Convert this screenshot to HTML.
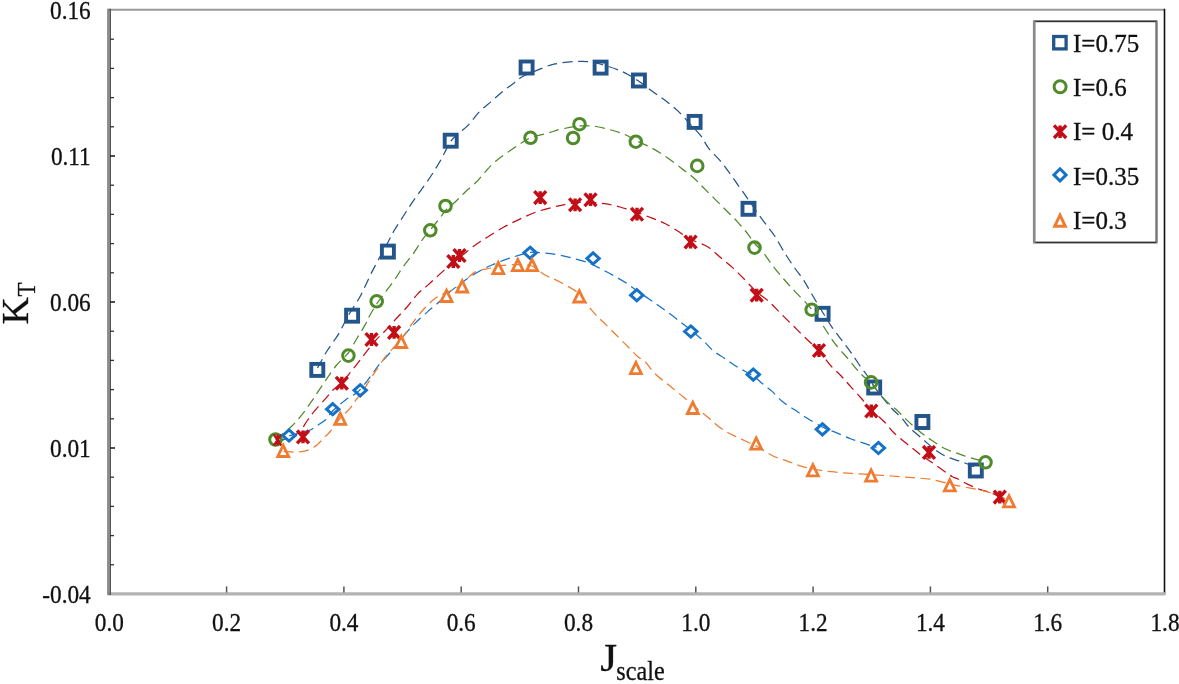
<!DOCTYPE html><html><head><meta charset="utf-8"><style>html,body{margin:0;padding:0;background:#fff;overflow:hidden}svg{display:block;filter:blur(0.6px)}text{font-family:"Liberation Serif",serif;fill:#111;stroke:#111;stroke-width:0.3px}</style></head><body>
<svg width="1179" height="684" viewBox="0 0 1179 684">
<rect width="1179" height="684" fill="#fff"/>
<line x1="108" y1="9.7" x2="1164.5" y2="9.7" stroke="#9a9a9a" stroke-width="2"/>
<line x1="1164.5" y1="8.7" x2="1164.5" y2="595" stroke="#111" stroke-width="1.6"/>
<line x1="107.5" y1="593.9" x2="1165" y2="593.9" stroke="#b3b3b3" stroke-width="3.4"/>
<line x1="108.2" y1="8.7" x2="108.2" y2="595" stroke="#8a8a8a" stroke-width="2.2"/>
<line x1="110.2" y1="8.7" x2="110.2" y2="595" stroke="#555" stroke-width="1.6"/>
<line x1="110" y1="39.2" x2="114" y2="39.2" stroke="#333" stroke-width="1.3"/>
<line x1="110" y1="68.4" x2="114" y2="68.4" stroke="#333" stroke-width="1.3"/>
<line x1="110" y1="97.6" x2="114" y2="97.6" stroke="#333" stroke-width="1.3"/>
<line x1="110" y1="126.8" x2="114" y2="126.8" stroke="#333" stroke-width="1.3"/>
<line x1="110" y1="156.0" x2="115" y2="156.0" stroke="#222" stroke-width="1.6"/>
<line x1="110" y1="185.2" x2="114" y2="185.2" stroke="#333" stroke-width="1.3"/>
<line x1="110" y1="214.4" x2="114" y2="214.4" stroke="#333" stroke-width="1.3"/>
<line x1="110" y1="243.6" x2="114" y2="243.6" stroke="#333" stroke-width="1.3"/>
<line x1="110" y1="272.8" x2="114" y2="272.8" stroke="#333" stroke-width="1.3"/>
<line x1="110" y1="302.0" x2="115" y2="302.0" stroke="#222" stroke-width="1.6"/>
<line x1="110" y1="331.2" x2="114" y2="331.2" stroke="#333" stroke-width="1.3"/>
<line x1="110" y1="360.4" x2="114" y2="360.4" stroke="#333" stroke-width="1.3"/>
<line x1="110" y1="389.6" x2="114" y2="389.6" stroke="#333" stroke-width="1.3"/>
<line x1="110" y1="418.8" x2="114" y2="418.8" stroke="#333" stroke-width="1.3"/>
<line x1="110" y1="448.0" x2="115" y2="448.0" stroke="#222" stroke-width="1.6"/>
<line x1="110" y1="477.2" x2="114" y2="477.2" stroke="#333" stroke-width="1.3"/>
<line x1="110" y1="506.4" x2="114" y2="506.4" stroke="#333" stroke-width="1.3"/>
<line x1="110" y1="535.6" x2="114" y2="535.6" stroke="#333" stroke-width="1.3"/>
<line x1="110" y1="564.8" x2="114" y2="564.8" stroke="#333" stroke-width="1.3"/>
<line x1="226.6" y1="586.4" x2="226.6" y2="592.5" stroke="#555" stroke-width="1.5"/>
<line x1="343.9" y1="586.4" x2="343.9" y2="592.5" stroke="#555" stroke-width="1.5"/>
<line x1="461.2" y1="586.4" x2="461.2" y2="592.5" stroke="#555" stroke-width="1.5"/>
<line x1="578.5" y1="586.4" x2="578.5" y2="592.5" stroke="#555" stroke-width="1.5"/>
<line x1="695.8" y1="586.4" x2="695.8" y2="592.5" stroke="#555" stroke-width="1.5"/>
<line x1="813.1" y1="586.4" x2="813.1" y2="592.5" stroke="#555" stroke-width="1.5"/>
<line x1="930.4" y1="586.4" x2="930.4" y2="592.5" stroke="#555" stroke-width="1.5"/>
<line x1="1047.7" y1="586.4" x2="1047.7" y2="592.5" stroke="#555" stroke-width="1.5"/>
<text transform="translate(90.7 18.6) scale(0.93 1)" font-size="25" text-anchor="end">0.16</text>
<text transform="translate(90.7 164.6) scale(0.93 1)" font-size="25" text-anchor="end">0.11</text>
<text transform="translate(90.7 310.6) scale(0.93 1)" font-size="25" text-anchor="end">0.06</text>
<text transform="translate(90.7 456.6) scale(0.93 1)" font-size="25" text-anchor="end">0.01</text>
<text transform="translate(90.7 602.6) scale(0.93 1)" font-size="25" text-anchor="end">-0.04</text>
<text transform="translate(109.3 631) scale(0.93 1)" font-size="25" text-anchor="middle">0.0</text>
<text transform="translate(226.6 631) scale(0.93 1)" font-size="25" text-anchor="middle">0.2</text>
<text transform="translate(343.9 631) scale(0.93 1)" font-size="25" text-anchor="middle">0.4</text>
<text transform="translate(461.2 631) scale(0.93 1)" font-size="25" text-anchor="middle">0.6</text>
<text transform="translate(578.5 631) scale(0.93 1)" font-size="25" text-anchor="middle">0.8</text>
<text transform="translate(695.8 631) scale(0.93 1)" font-size="25" text-anchor="middle">1.0</text>
<text transform="translate(813.1 631) scale(0.93 1)" font-size="25" text-anchor="middle">1.2</text>
<text transform="translate(930.4 631) scale(0.93 1)" font-size="25" text-anchor="middle">1.4</text>
<text transform="translate(1047.7 631) scale(0.93 1)" font-size="25" text-anchor="middle">1.6</text>
<text transform="translate(1165.0 631) scale(0.93 1)" font-size="25" text-anchor="middle">1.8</text>
<text transform="translate(600.2 671.3) scale(1.08 1)" font-size="40">J</text>
<text transform="translate(616.3 679.6) scale(0.865 1)" font-size="28">scale</text>
<g transform="translate(27.6 324.6) rotate(-90)"><text x="0" y="0" font-size="38">K</text><text transform="translate(28.2 7.6) scale(0.9 1)" font-size="25.5">T</text></g>
<path d="M317.5,368.0 C319.1,365.2 323.4,356.7 327.0,351.0 C330.6,345.3 335.3,339.4 338.8,333.6 C342.3,327.8 344.6,321.9 348.0,316.0 C351.4,310.1 356.1,303.6 359.0,298.5 C361.9,293.4 363.5,289.6 365.6,285.3 C367.7,281.0 369.3,277.0 371.4,272.9 C373.5,268.8 375.3,265.5 378.0,260.5 C380.7,255.5 384.9,248.0 387.6,243.0 C390.3,238.0 391.8,234.6 394.3,230.3 C396.8,226.0 400.0,221.4 402.8,217.0 C405.6,212.6 408.4,208.1 411.4,203.7 C414.4,199.2 417.6,195.0 420.9,190.3 C424.2,185.6 428.0,180.6 431.3,175.5 C434.6,170.4 437.6,165.6 440.8,160.0 C444.0,154.4 447.3,146.5 450.3,142.0 C453.3,137.5 455.9,135.9 459.0,133.0 C462.1,130.1 465.5,128.1 468.8,124.6 C472.1,121.1 475.4,115.9 479.0,112.1 C482.6,108.3 486.8,105.3 490.7,101.9 C494.6,98.5 498.5,94.9 502.4,91.7 C506.3,88.5 510.7,85.5 514.1,82.9 C517.5,80.3 518.4,78.7 523.0,76.3 C527.6,73.9 536.6,70.4 541.9,68.3 C547.2,66.2 549.8,65.0 555.0,63.9 C560.2,62.8 567.6,62.0 573.2,61.6 C578.8,61.2 584.3,61.2 588.8,61.6 C593.3,62.0 595.2,62.7 600.0,64.0 C604.8,65.3 612.8,67.9 617.4,69.6 C622.0,71.3 623.6,72.1 627.4,74.2 C631.2,76.3 635.6,79.0 640.0,82.0 C644.4,85.0 649.4,89.1 653.9,92.4 C658.4,95.7 662.6,98.4 666.7,101.6 C670.8,104.8 674.7,107.9 678.6,111.6 C682.5,115.3 686.4,120.0 690.0,124.0 C693.6,128.0 697.4,131.4 700.5,135.4 C703.6,139.4 705.3,143.9 708.5,148.1 C711.7,152.3 716.4,156.3 719.9,160.4 C723.4,164.5 726.4,168.7 729.4,172.8 C732.4,176.9 735.3,181.3 738.0,185.1 C740.7,188.9 743.3,192.3 745.6,195.6 C747.9,198.9 749.9,202.0 752.0,205.0 C754.1,208.0 755.6,210.3 758.0,213.7 C760.4,217.0 763.7,221.3 766.5,225.1 C769.3,228.9 771.8,231.5 775.0,236.5 C778.2,241.5 782.6,249.7 786.0,255.0 C789.4,260.3 792.1,264.2 795.1,268.5 C798.1,272.8 801.1,276.4 803.9,280.6 C806.6,284.8 808.5,288.6 811.6,293.8 C814.7,299.0 819.0,306.3 822.5,312.0 C826.0,317.7 829.1,323.0 832.4,327.8 C835.7,332.6 839.0,336.5 842.3,340.9 C845.6,345.3 849.0,349.7 852.1,354.1 C855.2,358.5 858.3,363.6 860.9,367.2 C863.5,370.8 865.0,372.4 867.5,376.0 C870.0,379.6 872.2,383.8 876.0,389.0 C879.8,394.2 886.2,402.1 890.5,407.0 C894.8,411.9 898.6,414.7 901.8,418.2 C905.0,421.7 906.3,424.4 909.8,427.9 C913.3,431.4 918.7,435.6 922.7,439.1 C926.7,442.6 930.0,445.9 934.0,448.8 C938.0,451.8 942.2,454.7 946.8,456.8 C951.3,458.9 956.6,459.9 961.3,461.6 C966.0,463.3 972.7,466.1 975.0,467.0" fill="none" stroke="#23548A" stroke-width="1.25" stroke-dasharray="10 5.5"/>
<path d="M275.5,439.5 C278.1,437.4 286.8,430.9 291.1,426.8 C295.5,422.7 298.3,419.2 301.6,415.1 C304.9,411.0 307.9,406.7 311.0,402.2 C314.1,397.7 316.3,394.2 320.4,388.2 C324.5,382.2 331.1,371.9 335.8,366.0 C340.5,360.1 344.9,357.4 348.3,353.0 C351.7,348.6 353.5,344.2 356.3,339.5 C359.1,334.8 362.9,328.8 365.1,324.9 C367.3,321.0 367.4,319.8 369.5,316.0 C371.6,312.2 373.8,308.1 378.0,302.0 C382.2,295.9 390.7,285.3 394.8,279.5 C398.9,273.7 399.8,271.3 402.9,267.0 C405.9,262.7 410.0,258.2 413.1,253.9 C416.2,249.6 418.5,245.1 421.4,241.0 C424.3,236.9 427.3,233.5 430.5,229.6 C433.7,225.7 437.8,220.7 440.4,217.4 C443.0,214.1 443.4,212.7 446.0,210.0 C448.6,207.3 453.0,204.0 456.2,201.0 C459.4,198.0 461.6,195.4 465.0,192.2 C468.4,189.0 473.4,185.0 476.7,181.7 C480.0,178.4 481.7,175.8 484.9,172.3 C488.1,168.8 490.4,165.5 496.0,160.9 C501.6,156.3 512.7,148.9 518.5,145.0 C524.3,141.1 525.8,139.7 530.9,137.7 C536.0,135.7 544.1,134.2 549.0,132.8 C553.9,131.4 555.0,130.5 560.0,129.4 C565.0,128.3 573.0,126.5 579.0,126.0 C585.0,125.5 590.7,125.8 596.0,126.5 C601.3,127.2 606.2,128.7 611.0,130.0 C615.8,131.3 620.5,132.8 624.7,134.5 C628.9,136.2 631.4,138.2 636.0,140.5 C640.6,142.8 647.0,145.4 652.1,148.2 C657.2,151.0 661.8,154.0 666.7,157.3 C671.6,160.6 676.9,164.8 681.3,168.2 C685.7,171.6 689.7,174.4 693.3,177.5 C696.9,180.6 699.3,183.5 702.8,187.0 C706.3,190.5 710.4,194.6 714.2,198.4 C718.0,202.2 721.8,206.0 725.6,209.8 C729.4,213.6 733.4,217.3 737.0,221.3 C740.6,225.3 744.5,229.8 747.5,233.6 C750.5,237.4 752.6,241.1 755.1,244.0 C757.6,246.9 759.2,247.3 762.2,251.0 C765.2,254.7 769.6,261.6 773.2,266.3 C776.9,271.1 780.5,275.3 784.1,279.5 C787.8,283.7 790.5,286.7 795.1,291.6 C799.7,296.5 806.9,303.3 811.6,309.1 C816.4,314.9 819.8,320.8 823.6,326.5 C827.4,332.2 830.6,337.8 834.6,343.1 C838.6,348.4 843.8,353.8 847.8,358.5 C851.8,363.2 854.7,367.3 858.7,371.6 C862.7,375.9 867.4,379.7 871.9,384.5 C876.4,389.3 881.5,396.2 885.7,400.5 C889.9,404.8 893.2,406.7 897.0,410.2 C900.8,413.7 904.2,417.6 908.2,421.4 C912.2,425.1 917.1,429.5 921.1,432.7 C925.1,435.9 928.3,438.0 932.3,440.7 C936.3,443.4 940.9,446.6 945.2,448.8 C949.5,451.0 953.6,452.0 958.1,453.6 C962.6,455.2 967.8,457.1 972.5,458.4 C977.2,459.7 983.9,461.1 986.2,461.6" fill="none" stroke="#4F8A2B" stroke-width="1.25" stroke-dasharray="10 5.5"/>
<path d="M277.0,441.0 C279.5,440.3 288.0,438.8 292.0,437.0 C296.0,435.2 298.5,432.7 301.0,430.0 C303.5,427.3 304.8,424.1 307.0,421.0 C309.2,417.9 311.1,415.1 314.0,411.6 C316.9,408.1 321.2,403.5 324.4,399.9 C327.6,396.3 330.0,393.0 333.0,390.0 C336.0,387.0 338.6,386.0 342.4,382.0 C346.2,378.0 351.7,370.7 355.6,365.8 C359.5,360.9 362.4,356.9 365.8,352.6 C369.2,348.3 372.6,343.8 376.0,340.0 C379.4,336.2 382.4,333.8 386.0,330.0 C389.6,326.2 393.7,321.4 397.3,317.5 C400.9,313.6 404.1,310.4 407.5,306.5 C410.9,302.6 414.1,297.7 417.5,294.1 C420.9,290.5 424.4,288.2 428.1,284.9 C431.8,281.6 435.8,277.7 439.8,274.1 C443.8,270.5 448.3,266.6 452.0,263.5 C455.7,260.4 458.2,258.5 462.0,255.5 C465.8,252.5 470.5,248.4 474.6,245.5 C478.7,242.6 481.6,240.8 486.4,237.8 C491.2,234.8 497.9,230.4 503.5,227.3 C509.1,224.2 514.3,221.7 519.8,219.1 C525.2,216.5 530.4,214.1 536.2,212.0 C542.0,209.9 549.2,208.2 554.6,206.8 C560.0,205.4 563.5,204.5 568.7,203.7 C573.9,202.9 580.1,202.0 586.0,202.0 C591.9,202.0 598.5,202.9 604.2,203.7 C609.9,204.5 614.5,205.5 620.0,207.0 C625.5,208.5 631.5,210.6 637.0,212.5 C642.5,214.4 648.1,216.6 652.8,218.4 C657.5,220.2 660.9,221.4 665.0,223.5 C669.1,225.6 673.1,228.1 677.3,230.7 C681.5,233.3 684.9,236.3 690.0,239.0 C695.1,241.7 703.0,243.9 708.0,247.0 C713.0,250.1 716.2,253.9 720.3,257.3 C724.4,260.7 728.5,263.9 732.6,267.6 C736.7,271.4 740.9,275.7 744.9,279.8 C748.9,283.9 752.7,288.4 756.7,292.0 C760.7,295.6 765.0,298.0 768.8,301.4 C772.6,304.8 776.1,308.7 779.7,312.4 C783.4,316.1 787.0,319.8 790.7,323.4 C794.4,327.0 798.2,330.9 801.7,334.3 C805.2,337.7 809.0,341.1 812.0,344.0 C815.0,346.9 817.0,348.5 820.0,352.0 C823.0,355.5 826.7,361.1 830.2,365.1 C833.7,369.1 837.9,372.5 841.2,376.0 C844.5,379.5 846.7,382.2 850.0,385.9 C853.3,389.6 857.6,394.1 861.0,398.0 C864.4,401.9 866.7,405.1 870.5,409.0 C874.3,412.9 880.1,417.6 884.0,421.5 C887.9,425.4 890.3,429.2 893.8,432.7 C897.3,436.2 901.5,439.4 905.0,442.3 C908.5,445.2 911.7,447.6 914.7,450.0 C917.7,452.4 920.1,454.4 923.0,456.5 C925.9,458.6 928.6,460.1 932.0,462.5 C935.4,464.9 940.2,468.4 943.5,470.7 C946.8,473.0 949.6,475.1 952.0,476.5 C954.4,477.9 955.3,477.7 958.0,479.0 C960.7,480.3 964.3,482.6 968.0,484.4 C971.7,486.2 976.5,488.2 980.3,489.6 C984.1,491.0 987.4,491.4 990.6,492.6 C993.9,493.9 998.3,496.4 999.8,497.1" fill="none" stroke="#C20E16" stroke-width="1.25" stroke-dasharray="10 5.5"/>
<path d="M276.0,444.0 C277.2,443.3 280.8,441.3 283.0,440.0 C285.2,438.7 285.7,437.3 289.0,436.0 C292.3,434.7 299.4,433.0 303.0,432.0 C306.6,431.0 308.2,431.0 310.4,430.0 C312.6,429.0 313.8,427.9 316.3,426.2 C318.8,424.5 322.9,422.3 325.6,419.8 C328.3,417.3 329.3,414.3 332.6,411.0 C335.9,407.7 342.4,402.3 345.5,399.9 C348.6,397.5 349.0,397.9 351.3,396.4 C353.6,394.8 355.9,394.0 359.2,390.6 C362.5,387.2 367.7,380.1 370.9,376.0 C374.1,371.9 374.8,369.9 378.2,365.8 C381.6,361.7 387.2,356.1 391.4,351.2 C395.5,346.3 399.2,341.1 403.1,336.5 C407.0,331.9 410.7,327.5 414.8,323.4 C418.9,319.2 424.1,314.8 427.7,311.6 C431.3,308.4 433.0,307.4 436.5,304.3 C440.0,301.2 444.4,296.5 448.5,293.0 C452.6,289.5 457.1,286.1 460.8,283.3 C464.6,280.5 466.9,278.8 471.0,276.2 C475.1,273.6 481.5,270.1 485.4,268.0 C489.3,265.9 490.5,265.6 494.6,263.9 C498.7,262.2 504.0,259.9 510.0,258.0 C516.0,256.1 524.9,253.2 530.5,252.4 C536.1,251.6 538.9,252.6 543.7,253.0 C548.5,253.4 554.2,254.0 559.5,255.0 C564.8,256.0 570.2,257.5 575.3,258.9 C580.4,260.3 585.5,261.7 590.0,263.5 C594.5,265.3 598.3,267.6 602.3,269.6 C606.3,271.6 609.7,273.4 613.8,275.7 C617.9,278.0 622.9,280.8 626.8,283.4 C630.7,285.9 633.5,288.3 637.3,291.0 C641.1,293.7 645.9,296.8 649.8,299.5 C653.7,302.2 657.0,304.6 660.6,307.1 C664.2,309.7 667.7,312.1 671.3,314.8 C674.9,317.5 678.8,320.7 682.1,323.3 C685.4,325.9 687.7,327.6 691.3,330.5 C694.9,333.4 699.9,337.6 703.5,340.9 C707.1,344.2 709.2,347.5 712.8,350.5 C716.4,353.5 720.9,355.9 725.0,358.7 C729.1,361.4 732.6,364.1 737.3,367.0 C742.0,369.9 749.2,373.3 753.3,376.0 C757.4,378.7 758.8,380.6 761.9,383.2 C765.0,385.8 768.7,388.3 772.1,391.4 C775.5,394.5 778.6,398.5 782.4,401.6 C786.1,404.7 790.5,407.1 794.6,409.8 C798.7,412.5 802.3,415.1 806.9,418.0 C811.5,420.9 817.5,424.6 822.3,427.0 C827.1,429.4 831.0,430.5 835.6,432.4 C840.2,434.3 845.5,436.8 849.9,438.5 C854.3,440.2 857.8,441.1 862.2,442.6 C866.6,444.1 874.1,446.9 876.5,447.7" fill="none" stroke="#1672C6" stroke-width="1.25" stroke-dasharray="10 5.5"/>
<path d="M283.5,451.3 C286.2,451.4 294.8,452.6 299.9,451.9 C305.0,451.2 309.6,449.9 313.9,447.3 C318.2,444.7 322.9,438.7 325.6,436.1 C328.3,433.5 328.0,434.4 330.3,431.5 C332.6,428.6 336.3,422.9 339.6,419.0 C342.9,415.1 347.5,411.3 350.2,408.1 C352.9,404.9 353.8,402.9 356.0,399.9 C358.2,396.9 360.9,394.0 363.6,390.0 C366.3,386.0 369.0,381.2 372.4,376.0 C375.8,370.8 380.5,363.4 384.1,358.5 C387.8,353.6 391.4,350.1 394.3,346.8 C397.2,343.6 398.4,343.1 401.6,339.0 C404.8,334.9 409.4,327.1 413.3,321.9 C417.2,316.7 421.2,311.9 424.8,308.0 C428.4,304.1 431.6,301.0 435.0,298.5 C438.4,296.0 441.1,294.9 445.0,293.0 C448.9,291.1 453.5,290.2 458.4,286.8 C463.2,283.4 469.1,275.7 474.1,272.6 C479.1,269.6 484.5,269.6 488.5,268.5 C492.5,267.4 493.1,266.7 498.0,266.0 C502.9,265.3 512.3,264.5 518.0,264.5 C523.7,264.5 527.5,264.2 532.0,266.0 C536.5,267.8 540.3,272.3 545.0,275.0 C549.7,277.7 554.3,278.8 560.0,282.0 C565.7,285.2 573.8,289.1 579.3,294.0 C584.8,298.9 588.8,306.9 592.9,311.7 C597.0,316.5 599.9,318.7 603.9,322.7 C607.9,326.7 613.0,331.8 617.0,335.8 C621.0,339.8 624.7,343.4 628.0,346.8 C631.3,350.2 634.1,353.4 637.0,356.0 C639.9,358.6 642.7,359.3 645.6,362.2 C648.5,365.1 650.8,369.5 654.4,373.1 C658.0,376.8 663.5,380.8 667.5,384.1 C671.5,387.4 674.3,389.4 678.5,392.9 C682.7,396.4 687.8,400.8 692.8,405.0 C697.8,409.2 704.0,414.1 708.7,418.0 C713.4,421.9 716.5,425.2 720.9,428.3 C725.3,431.4 729.4,433.4 735.3,436.4 C741.2,439.3 750.1,442.8 756.2,446.0 C762.3,449.2 766.8,452.9 772.1,455.5 C777.4,458.1 783.4,459.6 788.0,461.3 C792.6,463.0 795.9,464.5 800.0,465.8 C804.1,467.1 807.7,468.0 812.9,469.0 C818.1,470.0 824.8,471.0 831.2,471.7 C837.7,472.4 845.0,472.9 851.6,473.4 C858.2,473.9 864.3,474.2 871.1,474.6 C877.9,475.0 885.4,475.5 892.3,476.0 C899.2,476.5 906.2,477.1 912.7,477.7 C919.2,478.3 925.1,478.3 931.3,479.4 C937.5,480.5 944.9,482.9 950.0,484.1 C955.1,485.3 955.9,485.2 962.0,486.5 C968.1,487.8 978.7,489.3 986.5,491.6 C994.3,493.9 1005.2,498.9 1009.0,500.4" fill="none" stroke="#EE7B30" stroke-width="1.25" stroke-dasharray="10 5.5"/>
<rect x="311.3" y="363.9" width="12.0" height="12.0" fill="none" stroke="#23548A" stroke-width="3.9"/>
<rect x="346.1" y="309.7" width="12.0" height="12.0" fill="none" stroke="#23548A" stroke-width="3.9"/>
<rect x="381.9" y="245.6" width="12.0" height="12.0" fill="none" stroke="#23548A" stroke-width="3.9"/>
<rect x="444.7" y="134.7" width="12.0" height="12.0" fill="none" stroke="#23548A" stroke-width="3.9"/>
<rect x="520.6" y="61.5" width="12.0" height="12.0" fill="none" stroke="#23548A" stroke-width="3.9"/>
<rect x="594.6" y="61.6" width="12.0" height="12.0" fill="none" stroke="#23548A" stroke-width="3.9"/>
<rect x="632.9" y="74.5" width="12.0" height="12.0" fill="none" stroke="#23548A" stroke-width="3.9"/>
<rect x="688.6" y="115.9" width="12.0" height="12.0" fill="none" stroke="#23548A" stroke-width="3.9"/>
<rect x="742.5" y="202.8" width="12.0" height="12.0" fill="none" stroke="#23548A" stroke-width="3.9"/>
<rect x="816.6" y="307.8" width="12.0" height="12.0" fill="none" stroke="#23548A" stroke-width="3.9"/>
<rect x="868.2" y="381.5" width="12.0" height="12.0" fill="none" stroke="#23548A" stroke-width="3.9"/>
<rect x="916.4" y="416.0" width="12.0" height="12.0" fill="none" stroke="#23548A" stroke-width="3.9"/>
<rect x="969.8" y="464.5" width="12.0" height="12.0" fill="none" stroke="#23548A" stroke-width="3.9"/>
<circle cx="275.5" cy="439.5" r="5.8" fill="none" stroke="#4F8A2B" stroke-width="3.0"/>
<circle cx="348.4" cy="355.6" r="5.8" fill="none" stroke="#4F8A2B" stroke-width="3.0"/>
<circle cx="376.7" cy="301.3" r="5.8" fill="none" stroke="#4F8A2B" stroke-width="3.0"/>
<circle cx="430.3" cy="230.3" r="5.8" fill="none" stroke="#4F8A2B" stroke-width="3.0"/>
<circle cx="445.5" cy="206.0" r="5.8" fill="none" stroke="#4F8A2B" stroke-width="3.0"/>
<circle cx="530.5" cy="137.8" r="5.8" fill="none" stroke="#4F8A2B" stroke-width="3.0"/>
<circle cx="573.1" cy="138.0" r="5.8" fill="none" stroke="#4F8A2B" stroke-width="3.0"/>
<circle cx="579.5" cy="124.2" r="5.8" fill="none" stroke="#4F8A2B" stroke-width="3.0"/>
<circle cx="635.8" cy="141.7" r="5.8" fill="none" stroke="#4F8A2B" stroke-width="3.0"/>
<circle cx="697.2" cy="165.9" r="5.8" fill="none" stroke="#4F8A2B" stroke-width="3.0"/>
<circle cx="754.5" cy="247.6" r="5.8" fill="none" stroke="#4F8A2B" stroke-width="3.0"/>
<circle cx="811.7" cy="309.7" r="5.8" fill="none" stroke="#4F8A2B" stroke-width="3.0"/>
<circle cx="871.1" cy="382.4" r="5.8" fill="none" stroke="#4F8A2B" stroke-width="3.0"/>
<circle cx="985.5" cy="462.3" r="5.8" fill="none" stroke="#4F8A2B" stroke-width="3.0"/>
<path d="M273.7,434.4L281.3,445.6M273.7,445.6L281.3,434.4M277.5,434.4L277.5,445.6" stroke="#C20E16" stroke-width="2.2" fill="none"/>
<path d="M297.1,430.5L308.9,443.3M297.1,443.3L308.9,430.5M303.0,430.5L303.0,443.3" stroke="#C20E16" stroke-width="3.4" fill="none"/>
<path d="M335.9,376.8L347.7,389.6M335.9,389.6L347.7,376.8M341.8,376.8L341.8,389.6" stroke="#C20E16" stroke-width="3.4" fill="none"/>
<path d="M365.6,333.1L377.4,345.9M365.6,345.9L377.4,333.1M371.5,333.1L371.5,345.9" stroke="#C20E16" stroke-width="3.4" fill="none"/>
<path d="M388.2,326.0L400.0,338.8M388.2,338.8L400.0,326.0M394.1,326.0L394.1,338.8" stroke="#C20E16" stroke-width="3.4" fill="none"/>
<path d="M447.4,255.1L459.2,267.9M447.4,267.9L459.2,255.1M453.3,255.1L453.3,267.9" stroke="#C20E16" stroke-width="3.4" fill="none"/>
<path d="M453.6,249.1L465.4,261.9M453.6,261.9L465.4,249.1M459.5,249.1L459.5,261.9" stroke="#C20E16" stroke-width="3.4" fill="none"/>
<path d="M534.3,191.2L546.1,204.0M534.3,204.0L546.1,191.2M540.2,191.2L540.2,204.0" stroke="#C20E16" stroke-width="3.4" fill="none"/>
<path d="M569.2,198.4L581.0,211.2M569.2,211.2L581.0,198.4M575.1,198.4L575.1,211.2" stroke="#C20E16" stroke-width="3.4" fill="none"/>
<path d="M584.6,193.3L596.4,206.1M584.6,206.1L596.4,193.3M590.5,193.3L590.5,206.1" stroke="#C20E16" stroke-width="3.4" fill="none"/>
<path d="M631.1,207.8L642.9,220.6M631.1,220.6L642.9,207.8M637.0,207.8L637.0,220.6" stroke="#C20E16" stroke-width="3.4" fill="none"/>
<path d="M684.7,235.6L696.5,248.4M684.7,248.4L696.5,235.6M690.6,235.6L690.6,248.4" stroke="#C20E16" stroke-width="3.4" fill="none"/>
<path d="M750.8,288.8L762.6,301.6M750.8,301.6L762.6,288.8M756.7,288.8L756.7,301.6" stroke="#C20E16" stroke-width="3.4" fill="none"/>
<path d="M813.1,344.1L824.9,356.9M813.1,356.9L824.9,344.1M819.0,344.1L819.0,356.9" stroke="#C20E16" stroke-width="3.4" fill="none"/>
<path d="M865.4,404.6L877.2,417.4M865.4,417.4L877.2,404.6M871.3,404.6L871.3,417.4" stroke="#C20E16" stroke-width="3.4" fill="none"/>
<path d="M923.1,446.0L934.9,458.8M923.1,458.8L934.9,446.0M929.0,446.0L929.0,458.8" stroke="#C20E16" stroke-width="3.4" fill="none"/>
<path d="M993.9,490.7L1005.7,503.5M993.9,503.5L1005.7,490.7M999.8,490.7L999.8,503.5" stroke="#C20E16" stroke-width="3.4" fill="none"/>
<path d="M289.0,429.9L295.2,435.5L289.0,441.1L282.8,435.5Z" fill="none" stroke="#1672C6" stroke-width="3.0"/>
<path d="M332.7,403.6L338.9,409.2L332.7,414.8L326.5,409.2Z" fill="none" stroke="#1672C6" stroke-width="3.0"/>
<path d="M360.2,384.7L366.4,390.3L360.2,395.9L354.0,390.3Z" fill="none" stroke="#1672C6" stroke-width="3.0"/>
<path d="M530.1,247.2L536.3,252.8L530.1,258.4L523.9,252.8Z" fill="none" stroke="#1672C6" stroke-width="3.0"/>
<path d="M593.1,252.8L599.3,258.4L593.1,264.0L586.9,258.4Z" fill="none" stroke="#1672C6" stroke-width="3.0"/>
<path d="M636.8,289.6L643.0,295.2L636.8,300.8L630.6,295.2Z" fill="none" stroke="#1672C6" stroke-width="3.0"/>
<path d="M690.8,325.9L697.0,331.5L690.8,337.1L684.6,331.5Z" fill="none" stroke="#1672C6" stroke-width="3.0"/>
<path d="M753.3,369.0L759.5,374.6L753.3,380.2L747.1,374.6Z" fill="none" stroke="#1672C6" stroke-width="3.0"/>
<path d="M822.4,423.7L828.6,429.3L822.4,434.9L816.2,429.3Z" fill="none" stroke="#1672C6" stroke-width="3.0"/>
<path d="M878.4,442.4L884.6,448.0L878.4,453.6L872.2,448.0Z" fill="none" stroke="#1672C6" stroke-width="3.0"/>
<path d="M283.20,442.10L275.50,457.90L290.90,457.90ZM283.20,448.49L286.42,455.10L279.98,455.10Z" fill="#EE7B30" fill-rule="evenodd"/>
<path d="M340.20,409.90L332.50,425.70L347.90,425.70ZM340.20,416.29L343.42,422.90L336.98,422.90Z" fill="#EE7B30" fill-rule="evenodd"/>
<path d="M401.20,333.10L393.50,348.90L408.90,348.90ZM401.20,339.49L404.42,346.10L397.98,346.10Z" fill="#EE7B30" fill-rule="evenodd"/>
<path d="M446.50,287.10L438.80,302.90L454.20,302.90ZM446.50,293.49L449.72,300.10L443.28,300.10Z" fill="#EE7B30" fill-rule="evenodd"/>
<path d="M462.20,277.60L454.50,293.40L469.90,293.40ZM462.20,283.99L465.42,290.60L458.98,290.60Z" fill="#EE7B30" fill-rule="evenodd"/>
<path d="M498.30,259.30L490.60,275.10L506.00,275.10ZM498.30,265.69L501.52,272.30L495.08,272.30Z" fill="#EE7B30" fill-rule="evenodd"/>
<path d="M517.80,256.30L510.10,272.10L525.50,272.10ZM517.80,262.69L521.02,269.30L514.58,269.30Z" fill="#EE7B30" fill-rule="evenodd"/>
<path d="M532.10,256.30L524.40,272.10L539.80,272.10ZM532.10,262.69L535.32,269.30L528.88,269.30Z" fill="#EE7B30" fill-rule="evenodd"/>
<path d="M579.30,287.60L571.60,303.40L587.00,303.40ZM579.30,293.99L582.52,300.60L576.08,300.60Z" fill="#EE7B30" fill-rule="evenodd"/>
<path d="M635.90,359.30L628.20,375.10L643.60,375.10ZM635.90,365.69L639.12,372.30L632.68,372.30Z" fill="#EE7B30" fill-rule="evenodd"/>
<path d="M692.80,399.10L685.10,414.90L700.50,414.90ZM692.80,405.49L696.02,412.10L689.58,412.10Z" fill="#EE7B30" fill-rule="evenodd"/>
<path d="M756.20,434.70L748.50,450.50L763.90,450.50ZM756.20,441.09L759.42,447.70L752.98,447.70Z" fill="#EE7B30" fill-rule="evenodd"/>
<path d="M812.90,461.40L805.20,477.20L820.60,477.20ZM812.90,467.79L816.12,474.40L809.68,474.40Z" fill="#EE7B30" fill-rule="evenodd"/>
<path d="M871.10,466.70L863.40,482.50L878.80,482.50ZM871.10,473.09L874.32,479.70L867.88,479.70Z" fill="#EE7B30" fill-rule="evenodd"/>
<path d="M949.80,476.40L942.10,492.20L957.50,492.20ZM949.80,482.79L953.02,489.40L946.58,489.40Z" fill="#EE7B30" fill-rule="evenodd"/>
<path d="M1009.00,492.50L1001.30,508.30L1016.70,508.30ZM1009.00,498.89L1012.22,505.50L1005.78,505.50Z" fill="#EE7B30" fill-rule="evenodd"/>
<rect x="1034.2" y="21.3" width="122.3" height="221.2" fill="#fff" stroke="#333" stroke-width="1.8"/>
<line x1="1034.2" y1="21" x2="1034.2" y2="243" stroke="#8a8a8a" stroke-width="2.6"/>
<line x1="1156.5" y1="21" x2="1156.5" y2="243" stroke="#777" stroke-width="1.6"/>
<rect x="1053.7" y="36.5" width="12.4" height="12.4" fill="none" stroke="#23548A" stroke-width="3.3"/>
<text x="1073" y="51.5" font-size="25" xml:space="preserve">I=0.75</text>
<circle cx="1060.1" cy="86.7" r="6.0" fill="none" stroke="#4F8A2B" stroke-width="3.0"/>
<text x="1073" y="95.6" font-size="25" xml:space="preserve">I=0.6</text>
<path d="M1054.0,125.4L1066.2,138.0M1054.0,138.0L1066.2,125.4M1060.1,125.4L1060.1,138.0" stroke="#C20E16" stroke-width="3.4" fill="none"/>
<text x="1073" y="140.1" font-size="25" xml:space="preserve">I= 0.4</text>
<path d="M1060.0,168.8L1066.1,174.9L1060.0,181.0L1053.9,174.9Z" fill="none" stroke="#1672C6" stroke-width="3.0"/>
<text x="1073" y="184.5" font-size="25" xml:space="preserve">I=0.35</text>
<path d="M1060.00,211.70L1052.30,227.70L1067.70,227.70ZM1060.00,218.62L1062.93,224.70L1057.07,224.70Z" fill="#EE7B30" fill-rule="evenodd"/>
<text x="1073" y="228.9" font-size="25" xml:space="preserve">I=0.3</text>
</svg></body></html>
